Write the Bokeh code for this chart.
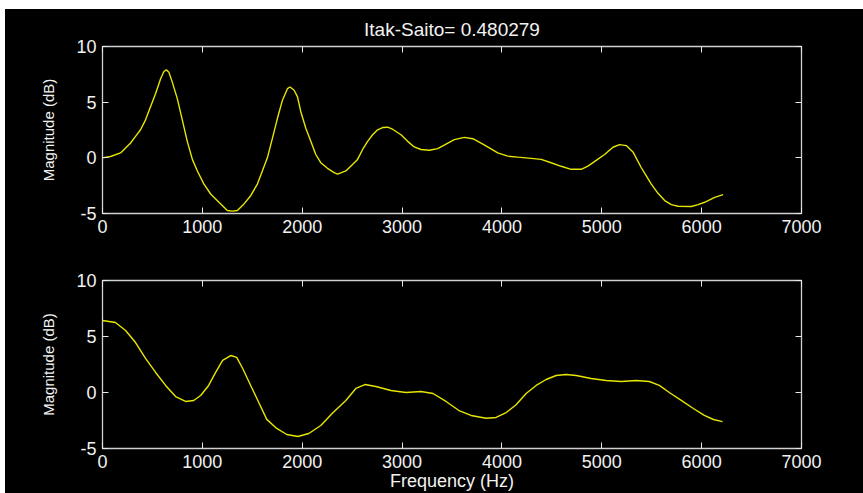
from bokeh.plotting import figure
from bokeh.models import LinearAxis, FixedTicker, Range1d
from bokeh.layouts import column
from bokeh.embed import file_html
from bokeh.resources import INLINE

title_text = "Itak-Saito= 0.480279"
y_label = "Magnitude (dB)"
x_label = "Frequency (Hz)"
x_ticks = [0, 1000, 2000, 3000, 4000, 5000, 6000, 7000]
y_ticks = [-5, 0, 5, 10]

top_freq = [0, 80, 181, 231, 281, 331, 381, 431, 481, 532, 582, 615, 639, 665, 699, 749, 799, 849,
            900, 950, 1016, 1083, 1166, 1250, 1300, 1351, 1417, 1484, 1551, 1601, 1651, 1702,
            1752, 1802, 1852, 1878, 1919, 1953, 1986, 2036, 2086, 2136, 2186, 2253, 2320, 2354,
            2437, 2504, 2554, 2605, 2655, 2705, 2755, 2805, 2855, 2905, 2989, 3056, 3122, 3189,
            3273, 3357, 3440, 3523, 3623, 3708, 3791, 3874, 3958, 4059, 4159, 4292, 4393, 4493,
            4593, 4693, 4794, 4861, 4944, 5028, 5112, 5178, 5245, 5312, 5396, 5446, 5496, 5563,
            5630, 5697, 5764, 5897, 5964, 6030, 6131, 6215]
top_db = [0, 0.12, 0.44, 0.89, 1.33, 1.93, 2.52, 3.41, 4.59, 5.77, 7.1, 7.75, 7.9, 7.69, 6.8, 5.32,
          3.41, 1.48, -0.14, -1.18, -2.36, -3.25, -3.99, -4.73, -4.79, -4.73, -4.14, -3.4, -2.36,
          -1.18, 0, 1.77, 3.55, 5.18, 6.21, 6.36, 6.07, 5.47, 4.14, 2.66, 1.48, 0.3, -0.44, -0.94,
          -1.33, -1.47, -1.18, -0.59, -0.14, 0.75, 1.48, 2.07, 2.52, 2.72, 2.75, 2.57, 2.07, 1.48,
          0.98, 0.75, 0.68, 0.83, 1.24, 1.63, 1.84, 1.72, 1.33, 0.89, 0.44, 0.15, 0.06, -0.05,
          -0.14, -0.44, -0.76, -1.03, -1.03, -0.74, -0.23, 0.3, 0.95, 1.19, 1.1, 0.53, -0.89,
          -1.62, -2.36, -3.19, -3.84, -4.2, -4.35, -4.37, -4.2, -3.99, -3.55, -3.31]

bot_freq = [0, 130, 231, 331, 431, 532, 632, 732, 832, 913, 983, 1063, 1133, 1203, 1284, 1344,
            1404, 1484, 1565, 1645, 1745, 1845, 1956, 2066, 2186, 2307, 2437, 2537, 2628, 2738,
            2888, 3039, 3189, 3310, 3440, 3570, 3691, 3841, 3941, 4042, 4142, 4242, 4343, 4443,
            4543, 4643, 4744, 4894, 5045, 5195, 5345, 5476, 5576, 5676, 5796, 5917, 6027, 6118,
            6209]
bot_db = [6.43, 6.25, 5.54, 4.46, 3.04, 1.79, 0.63, -0.36, -0.8, -0.71, -0.27, 0.63, 1.79, 2.86,
          3.3, 3.13, 2.14, 0.63, -0.89, -2.4, -3.21, -3.75, -3.93, -3.66, -2.95, -1.8, -0.71,
          0.36, 0.71, 0.54, 0.18, 0.0, 0.09, -0.09, -0.8, -1.61, -2.05, -2.3, -2.23, -1.79,
          -1.1, -0.09, 0.63, 1.16, 1.52, 1.61, 1.52, 1.25, 1.07, 0.98, 1.07, 0.98, 0.63, 0.0,
          -0.71, -1.43, -2.05, -2.41, -2.6]

FONT = "Liberation Sans"
AX = "#d0d0d0"
TXT = "#f2f2f2"
LINE = "#e6e600"


def style_axis(ax, labels=True):
    ax.axis_line_color = None
    ax.major_tick_in = 6
    ax.major_tick_out = 0
    ax.minor_tick_line_color = None
    ax.major_tick_line_color = "#e8e8e8"
    if labels:
        ax.major_label_text_font = FONT
        ax.major_label_text_font_size = "18px"
        ax.major_label_text_color = TXT
        ax.major_label_standoff = 6
    else:
        ax.major_label_text_font_size = "0px"
        ax.major_label_standoff = 0
        ax.major_label_text_alpha = 0


def make(xs, ys, height, top, bottom, title=None, xlabel=None):
    p = figure(width=858, height=height, x_range=Range1d(0, 7000), y_range=Range1d(-5, 10),
               output_backend="svg", toolbar_location=None,
               background_fill_color="black", border_fill_color="black",
               min_border_left=97, min_border_right=62, min_border_top=top,
               min_border_bottom=bottom, outline_line_color=AX, outline_line_width=1.3)
    p.grid.visible = False
    p.xaxis.ticker = FixedTicker(ticks=x_ticks)
    p.yaxis.ticker = FixedTicker(ticks=y_ticks)
    p.yaxis.major_label_overrides = {-5: "-5"}
    style_axis(p.xaxis[0])
    style_axis(p.yaxis[0])
    p.yaxis.axis_label = y_label
    p.yaxis.axis_label_text_font = FONT
    p.yaxis.axis_label_text_font_size = "15px"
    p.yaxis.axis_label_text_font_style = "normal"
    p.yaxis.axis_label_text_color = TXT
    p.yaxis.axis_label_standoff = 16
    if xlabel:
        p.xaxis.axis_label = xlabel
        p.xaxis.axis_label_text_font = FONT
        p.xaxis.axis_label_text_font_size = "18px"
        p.xaxis.axis_label_text_font_style = "normal"
        p.xaxis.axis_label_text_color = TXT
        p.xaxis.axis_label_standoff = 0
    ta = LinearAxis(ticker=FixedTicker(ticks=x_ticks))
    style_axis(ta, labels=False)
    p.add_layout(ta, "above")
    ra = LinearAxis(ticker=FixedTicker(ticks=y_ticks))
    style_axis(ra, labels=False)
    p.add_layout(ra, "right")
    if title:
        p.title.text = title
        p.title.align = "center"
        p.title.text_font = FONT
        p.title.text_font_size = "19px"
        p.title.text_font_style = "normal"
        p.title.text_color = TXT
        p.title.offset = 0
        p.title.standoff = 14
    p.line(xs, ys, line_color=LINE, line_width=1.4)
    return p


p1 = make(top_freq, top_db, 242, 35, 38, title=title_text)
p2 = make(bot_freq, bot_db, 242, 29, 45, xlabel=x_label)

layout = column(p1, p2, spacing=0, margin=(9, 0, 0, 5),
                styles={"background-color": "black"})
open("out.html", "w").write(file_html(layout, INLINE))
